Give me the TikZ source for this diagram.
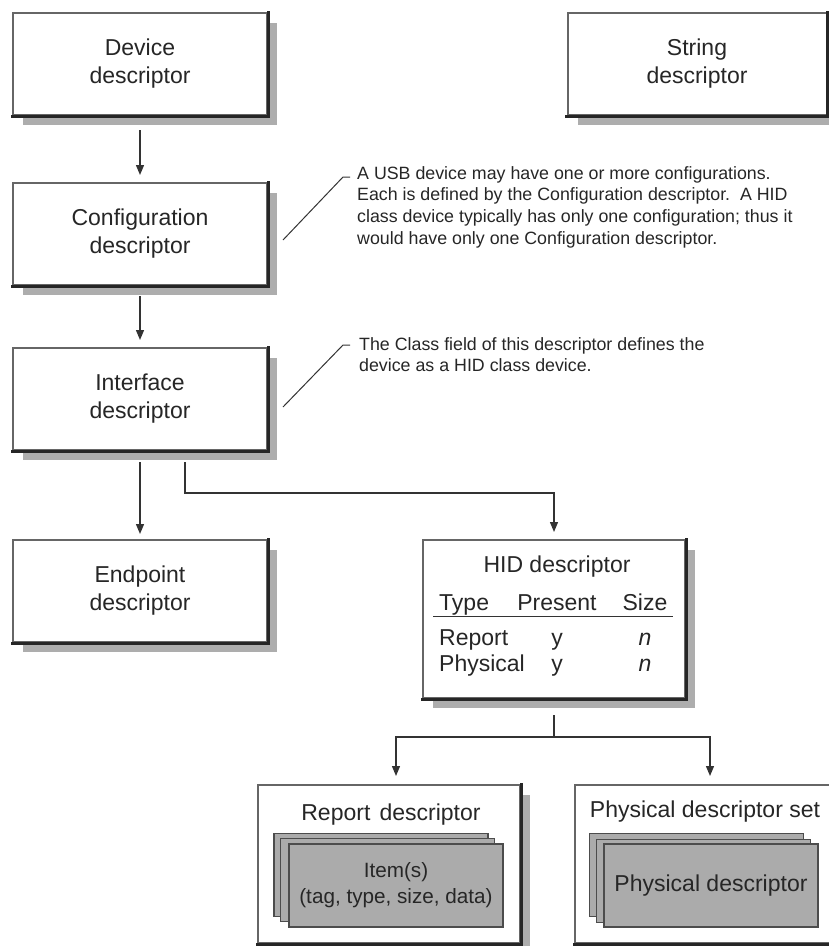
\documentclass[tikz,border=0pt]{standalone}
\usepackage{fontspec}
\setmainfont{Liberation Sans}
\usetikzlibrary{arrows.meta,positioning,shadows}

\begin{document}
\begin{tikzpicture}[x=1pt, y=-1pt,
  font=\fontsize{23}{28}\selectfont,
  desc/.style={draw=black!60, line width=2pt, fill=white, align=center, text=black!85,
               minimum width=254pt, minimum height=102pt, inner sep=2pt,
               drop shadow={shadow xshift=10pt, shadow yshift=-10pt, fill=black!32, opacity=1}},
  bigdesc/.style={desc, minimum width=262pt, minimum height=158pt},
  darkedge/.style={draw=black!85, line width=3pt, line cap=rect},
  card/.style={draw=black!70, line width=1.2pt, fill=black!33, align=center, text=black!85,
               minimum width=214pt, minimum height=83pt},
  note/.style={anchor=north west, inner sep=0pt, align=left, text=black!85,
               font=\fontsize{17.8}{21.7}\selectfont},
  cell/.style={anchor=base, inner sep=0pt, text=black!85},
  lead/.style={draw=black!80, line width=1pt},
  link/.style={draw=black!80, line width=1.3pt},
  arr/.style={link, -{Triangle[length=10pt,width=8pt]}}
]
\useasboundingbox (0,0) rectangle (829,946);
\clip (0,0) rectangle (829,946);

% left column
\node[desc] (device) at (140,64) {Device\\descriptor};
\node[desc] (config) at (140,234) {Configuration\\descriptor};
\node[desc] (iface) at (140,399) {Interface\\descriptor};
\node[desc] (endpoint) at (140,591) {Endpoint\\descriptor};
\node[desc, minimum width=259pt] (string) at (697,64) {String\\descriptor};

\draw[arr, shorten <=14pt, shorten >=7pt] (device) -- (config);
\draw[arr, shorten <=10pt, shorten >=7pt] (config) -- (iface);
\draw[arr, shorten <=11pt, shorten >=5pt] (iface) -- (endpoint);

% notes
\node[note] (note1) at (357,166) {A USB device may have one or more configurations.\\
  Each is defined by the Configuration descriptor.~~A HID\\
  class device typically has only one configuration; thus it\\
  would have only one Configuration descriptor.};
\draw[lead] ([shift={(15,6)}]config.east) -- ([shift={(-14,11)}]note1.north west)
  -- ([shift={(-7,11)}]note1.north west);

\node[note] (note2) at (359,337) {The Class field of this descriptor defines the\\
  device as a HID class device.};
\draw[lead] ([shift={(15,8)}]iface.east) -- ([shift={(-16,8)}]note2.north west)
  -- ([shift={(-9,8)}]note2.north west);

% HID descriptor
\node[bigdesc] (hid) at (554,619) {};
\node[cell] (hidtitle) at (557,572) {HID descriptor};
\node[cell, anchor=base west] (ctype) at (439,610) {Type};
\node[cell] (cpresent) at (557,610) {Present};
\node[cell] (csize) at (645,610) {Size};
\draw[lead] (433,616) -- (673,616);
\node[cell, anchor=base west] (rreport) at (439,645) {Report};
\node[cell] (rreporty) at (557,645) {y};
\node[cell] (rreportn) at (645,645) {\itshape n};
\node[cell, anchor=base west] (rphys) at (439,671) {Physical};
\node[cell] (rphysy) at (557,671) {y};
\node[cell] (rphysn) at (645,671) {\itshape n};

\draw[arr, shorten <=11pt, shorten >=7pt] ([xshift=45pt]iface.south) -- ++(0,42) -| (hid.north);

% report and physical sets
\node[bigdesc] (report) at (389,864) {};
\node[cell] (reptitle) at (391,820) {Report\hspace{0.4em}descriptor};
\foreach \i/\d in {1/0,2/6.5}
  \node[card] (repcard\i) at (381+\d,875+\d*0.8) {};
\node[card, font=\fontsize{20.7}{26}\selectfont] (repcard3) at (396,885.5) {Item(s)\\(tag, type, size, data)};

\node[bigdesc] (physset) at (706,864) {};
\node[cell] (physttitle) at (705,817) {Physical descriptor set};
\foreach \i/\d in {1/0,2/7}
  \node[card] (phcard\i) at (696.5+\d,875+\d*0.8) {};
\node[card] (phcard3) at (711,885.5) {Physical descriptor};

% heavy lower right edges
\foreach \n in {device,config,iface,endpoint,string,hid,report,physset}
  \draw[darkedge] (\n.north east) -- (\n.south east) -- (\n.south west);

\coordinate (split) at (554,737);
\draw[link, shorten <=16pt] (hid) -- (split);
\draw[arr, shorten >=8pt] (split) -| ([xshift=7pt]report.north);
\draw[arr, shorten >=8pt] (split) -| ([xshift=4pt]physset.north);
\end{tikzpicture}
\end{document}
